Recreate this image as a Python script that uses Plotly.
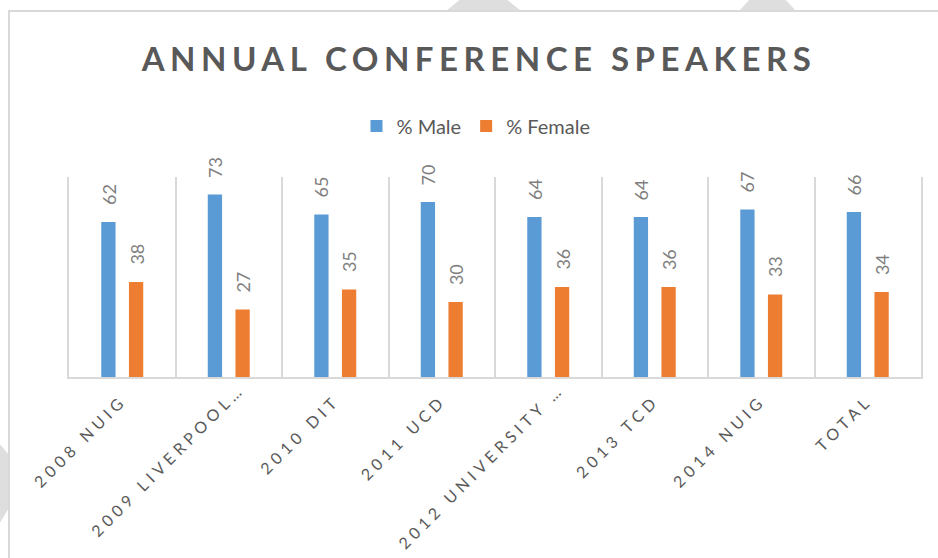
import plotly.graph_objects as go

# ---- data ----
categories = ["2008 NUIG", "2009 LIVERPOOL…", "2010 DIT", "2011 UCD",
              "2012 UNIVERSITY …", "2013 TCD", "2014 NUIG", "TOTAL"]
male = [62, 73, 65, 70, 64, 64, 67, 66]
female = [38, 27, 35, 30, 36, 36, 33, 34]
series_names = ["% Male", "% Female"]
title_text = "ANNUAL CONFERENCE SPEAKERS"

# ---- style ----
colors = ["#5B9BD5", "#ED7D31"]
W, H = 938, 558
ML, MR, MT, MB = 69, 17, 177, 181
PW, PH = W - ML - MR, H - MT - MB
FONT = "Lato"


def px(x):
    return (x - ML) / PW


def py(y):
    return (H - MB - y) / PH


fig = go.Figure()
for name, vals, col in zip(series_names, (male, female), colors):
    fig.add_trace(go.Bar(x=categories, y=vals, name=name,
                         marker=dict(color=col, line=dict(width=0))))

# data labels, rotated, above each bar
for vals, shift in ((male, -13.85), (female, 13.85)):
    for c, v in zip(categories, vals):
        fig.add_annotation(x=c, y=v, text=str(v), textangle=-90, showarrow=False,
                           yanchor="bottom", xshift=shift, yshift=15,
                           font=dict(family=FONT, size=18, color="#7F7F7F"))

# decoration: watermark and chart border
grey = "#DEDEDE"
shapes = [
    dict(type="path", xref="paper", yref="paper", layer="below", line=dict(width=0), fillcolor=grey,
         path=f"M{px(446)},{py(11)} L{px(521)},{py(11)} L{px(505)},{py(-2)} L{px(462)},{py(-2)} Z"),
    dict(type="path", xref="paper", yref="paper", layer="below", line=dict(width=0), fillcolor=grey,
         path=f"M{px(739)},{py(11)} L{px(796)},{py(11)} L{px(784)},{py(-2)} L{px(751)},{py(-2)} Z"),
    dict(type="path", xref="paper", yref="paper", layer="below", line=dict(width=0), fillcolor=grey,
         path=f"M{px(-2)},{py(442)} L{px(9)},{py(455)} L{px(9)},{py(508)} L{px(-2)},{py(526)} Z"),
    dict(type="rect", xref="paper", yref="paper", layer="below",
         x0=px(9), y0=py(566), x1=px(950), y1=py(11),
         line=dict(color="#D9D9D9", width=2), fillcolor="white"),
]

fig.update_layout(
    width=W, height=H,
    margin=dict(l=ML, r=MR, t=MT, b=MB, pad=0),
    paper_bgcolor="white", plot_bgcolor="rgba(0,0,0,0)",
    barmode="group", bargap=0.48, bargroupgap=0.484,
    shapes=shapes,
    title=dict(text=title_text, x=479 / W, xanchor="center", xref="container",
               y=1 - 59 / H, yanchor="middle", yref="container",
               font=dict(family=FONT, size=33, color="#595959", weight="bold")),
    legend=dict(orientation="h", x=px(476), xanchor="center", y=py(126), yanchor="middle",
                font=dict(family=FONT, size=20, color="#595959"), bgcolor="rgba(0,0,0,0)"),
    xaxis=dict(type="category", tickson="boundaries", showgrid=True, gridcolor="#D9D9D9",
               gridwidth=1.5, showline=True, linecolor="#D9D9D9", linewidth=2,
               ticks="", tickangle=-45, ticklabelstandoff=6,
               tickfont=dict(family=FONT, size=16, color="#595959")),
    yaxis=dict(range=[0, 80], showgrid=False, zeroline=False, showticklabels=False,
               showline=True, mirror=True, linecolor="#D9D9D9", linewidth=1.5, ticks=""),
)

post = """
document.body.style.margin = '0';
document.body.style.padding = '0';
var gd = document.getElementById('{plot_id}');
gd.querySelectorAll('.gtitle').forEach(function(e){e.style.letterSpacing='5.5px';});
gd.querySelectorAll('.xtick text').forEach(function(e){
  e.style.letterSpacing='4.6px';
  if (e.textContent.indexOf('\\u2026') >= 0) { e.setAttribute('dx', '16'); }
});
"""

fig.write_html("out.html", post_script=post, config={"displayModeBar": False})
